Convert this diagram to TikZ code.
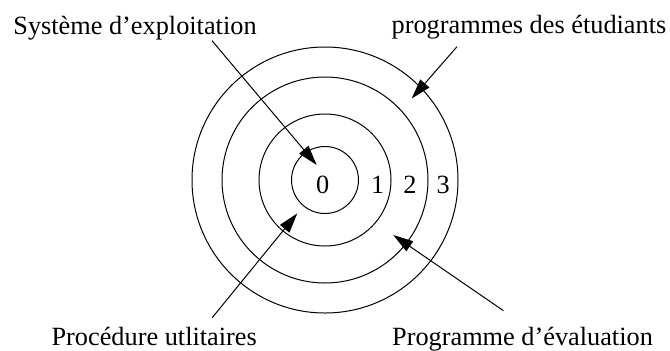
\documentclass[tikz,border=0pt]{standalone}
\usepackage{fontspec}
\setmainfont{Liberation Serif}
\usepackage{tikz}
\usetikzlibrary{arrows.meta,shapes,positioning,calc}

\begin{document}
\begin{tikzpicture}[x=0.5pt,y=-0.5pt,line width=0.5pt,
  ring/.style={draw,circle,inner sep=0pt,line width=0.5pt},
  lbl/.style={inner sep=0pt,anchor=base,font=\fontsize{13.15}{15}\selectfont},
  arr/.style={-{Triangle[length=10pt,width=6pt]},line width=0.5pt}]
  \useasboundingbox (0,0) rectangle (670,350);
  \coordinate (ctr) at (325,180);
  % anneaux
  \foreach \d [count=\i from 0] in {33.5,66,103,133}
    \node[ring,minimum size=\d pt] (ring\i) at (ctr) {};
  \foreach \n/\x in {0/322.7,1/377.7,2/410,3/443.3}
    \node[lbl] (num\n) at (\x,193.5) {\n};
  % textes
  \node[lbl] (sys)  at (135,34.5)    {Système d’exploitation};
  \node[lbl] (etu)  at (529,33.5)    {programmes des étudiants};
  \node[lbl] (proc) at (154.2,345.5) {Procédure utlitaires};
  \node[lbl] (eval) at (522.5,345.5) {Programme d’évaluation};
  % pointes
  \coordinate (sysT)  at (316.7,165);
  \coordinate (etuT)  at (411.7,98.5);
  \coordinate (procT) at (297.3,213.3);
  \coordinate (evalT) at (393.3,235);
  \draw[arr] ($(sys.south)+(77,0)$) -- (sysT);
  \draw[arr] ($(etu.south)+(-72,7)$) -- (etuT);
  \draw[arr] ($(proc.north)+(58,-9)$) -- (procT);
  \draw[arr] ($(eval.north)+(-19,-16)$) -- (evalT);
\end{tikzpicture}
\end{document}
